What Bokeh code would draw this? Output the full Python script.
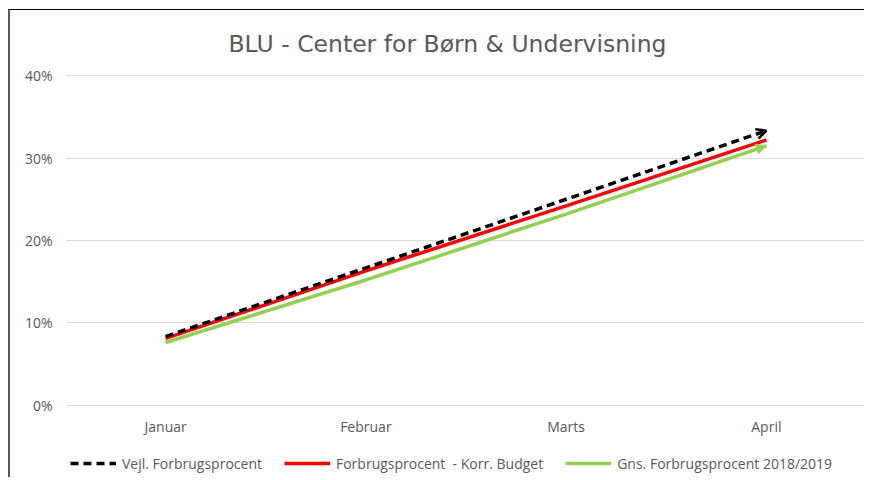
from bokeh.plotting import figure
from bokeh.models import (ColumnDataSource, Legend, LegendItem, Arrow, OpenHead,
                          NormalHead, NumeralTickFormatter, FixedTicker)
from bokeh.embed import file_html
from bokeh.resources import INLINE

months = ["Januar", "Februar", "Marts", "April"]
vejl = [0.0833, 0.1667, 0.25, 0.3333]
korr = [0.081, 0.163, 0.242, 0.322]
gns = [0.076, 0.152, 0.232, 0.315]
names = ["Vejl. Forbrugsprocent", "Forbrugsprocent  - Korr. Budget",
         "Gns. Forbrugsprocent 2018/2019"]
title_text = "BLU - Center for Børn & Undervisning"
yticks = [0, 0.1, 0.2, 0.3, 0.4]

FONT = "Open Sans"
GREY = "#595959"

# frame reaches down to the canvas bottom so the legend can sit inside it
p = figure(width=856, height=468, x_range=months, y_range=(-0.0891, 0.4015),
           output_backend="svg", toolbar_location=None,
           min_border_left=55, min_border_right=0, min_border_top=64,
           min_border_bottom=0)
p.styles = {"margin-left": "8px", "margin-top": "9px",
            "border-top": "1.5px solid #000000", "border-left": "2px solid #595959"}
p.outline_line_color = None
p.x_range.range_padding = 0

p.title.text = title_text
p.title.align = "left"
p.title.offset = 163
p.title.standoff = 34
p.title.text_font = "DejaVu Sans"
p.title.text_font_size = "23.5px"
p.title.text_font_style = "normal"
p.title.text_color = GREY

p.xgrid.grid_line_color = None
p.ygrid.grid_line_color = "#D9D9D9"
p.ygrid.ticker = FixedTicker(ticks=yticks)
p.yaxis.ticker = FixedTicker(ticks=yticks)
p.yaxis.formatter = NumeralTickFormatter(format="0%")
for ax in (p.xaxis, p.yaxis):
    ax.axis_line_color = None
    ax.major_tick_line_color = None
    ax.minor_tick_line_color = None
    ax.major_tick_out = 0
    ax.minor_tick_out = 0
    ax.major_label_text_font = FONT
    ax.major_label_text_font_size = "14px"
    ax.major_label_text_color = GREY
p.yaxis.major_label_standoff = 13
p.xaxis.major_label_standoff = 12
p.xaxis.fixed_location = 0

src = ColumnDataSource(dict(m=months, v=vejl, k=korr, g=gns))
r_g = p.line("m", "g", source=src, line_color="#92D050", line_width=3.5)
r_k = p.line("m", "k", source=src, line_color="#FF0000", line_width=3.5)
r_v = p.line("m", "v", source=src, line_color="#000000", line_width=3.5,
             line_dash="8 5")

asrc = ColumnDataSource(dict(xs=[months[-2]], xe=[months[-1]],
                             vs=[vejl[-2]], ve=[vejl[-1]],
                             gs=[gns[-2]], ge=[gns[-1]]))
p.add_layout(Arrow(end=OpenHead(line_color="#000000", line_width=2.5, size=10),
                   x_start="xs", y_start="vs", x_end="xe", y_end="ve",
                   source=asrc, line_alpha=0))
p.add_layout(Arrow(end=NormalHead(fill_color="#92D050", line_color="#92D050", size=10),
                   x_start="xs", y_start="gs", x_end="xe", y_end="ge",
                   source=asrc, line_alpha=0))

legend = Legend(items=[LegendItem(label=names[0], renderers=[r_v]),
                       LegendItem(label=names[1], renderers=[r_k]),
                       LegendItem(label=names[2], renderers=[r_g])],
                orientation="horizontal", location=(5, 5),
                glyph_width=46, glyph_height=20, label_height=20,
                label_standoff=6, spacing=22,
                label_text_font=FONT, label_text_font_size="14px",
                label_text_color=GREY, border_line_color=None,
                background_fill_alpha=0, padding=2, margin=0)
p.add_layout(legend, "center")

open("out.html", "w").write(file_html(p, INLINE))
